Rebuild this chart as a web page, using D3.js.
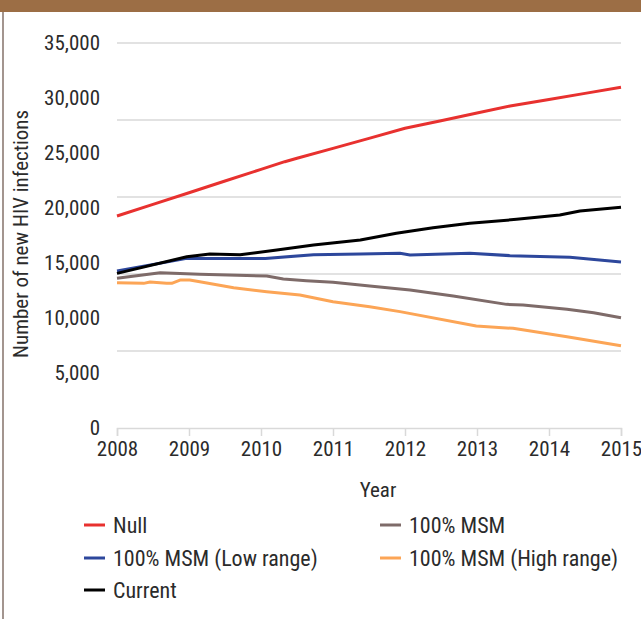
<!DOCTYPE html>
<html>
<head>
<meta charset="utf-8">
<script src="https://cdn.jsdelivr.net/npm/d3@7"></script>
<style>
  body { margin: 0; background: #fff; }
  svg text { font-family: "Liberation Sans Narrow", "Roboto Condensed", "Liberation Sans", sans-serif; fill: #2b2b2b; }
</style>
</head>
<body>
<svg id="chart-svg" width="641" height="619"></svg>
<script>
// years (fractional) and values for each series
var nullYears    = [2008, 2008.5, 2009, 2009.5, 2010, 2010.33, 2010.5, 2011, 2011.5, 2012, 2012.5, 2013, 2013.46, 2014, 2014.5, 2015];
var nullValues   = [19270, 20330, 21390, 22450, 23510, 24210, 24520, 25420, 26330, 27250, 27940, 28630, 29270, 29870, 30420, 30970];

var currentYears  = [2008, 2008.97, 2009.29, 2009.71, 2010.22, 2010.73, 2011.38, 2011.88, 2012.39, 2012.9, 2013.55, 2014.15, 2014.43, 2015];
var currentValues = [14060, 15570, 15820, 15760, 16180, 16640, 17090, 17700, 18210, 18610, 18970, 19360, 19730, 20060];

var lowYears  = [2008, 2008.97, 2009.71, 2010.06, 2010.73, 2011.38, 2011.93, 2012.07, 2012.9, 2013.46, 2014.29, 2015];
var lowValues = [14270, 15420, 15420, 15420, 15760, 15820, 15880, 15730, 15880, 15670, 15520, 15090];

var msmYears  = [2008, 2008.6, 2009.15, 2010.08, 2010.31, 2010.63, 2011, 2011.51, 2012.07, 2012.67, 2013.41, 2013.64, 2014.25, 2014.62, 2015];
var msmValues = [13610, 14120, 13970, 13820, 13550, 13390, 13240, 12910, 12550, 12000, 11240, 11180, 10790, 10480, 10030];

var highYears  = [2008, 2008.37, 2008.46, 2008.69, 2008.76, 2008.875, 2009.01, 2009.15, 2009.62, 2010.08, 2010.54, 2011, 2011.51, 2011.93, 2012.99, 2013.5, 2014.25, 2015];
var highValues = [13210, 13150, 13270, 13150, 13150, 13450, 13450, 13300, 12750, 12390, 12090, 11480, 11030, 10580, 9270, 9060, 8300, 7480];

var yearTicks = [2008, 2009, 2010, 2011, 2012, 2013, 2014, 2015];
var yLabelTicks = [0, 5000, 10000, 15000, 20000, 25000, 30000, 35000];
var gridTicks = [7000, 14000, 21000, 28000, 35000];

var series = [
  { name: "Null", years: nullYears, values: nullValues, color: "#e8312f" },
  { name: "100% MSM", years: msmYears, values: msmValues, color: "#7e6b69" },
  { name: "100% MSM (Low range)", years: lowYears, values: lowValues, color: "#2d479c" },
  { name: "100% MSM (High range)", years: highYears, values: highValues, color: "#fca556" },
  { name: "Current", years: currentYears, values: currentValues, color: "#000000" }
];
var drawOrder = ["100% MSM (High range)", "100% MSM", "Null", "100% MSM (Low range)", "Current"];

var svg = d3.select("#chart-svg");

// frame
svg.append("rect").attr("x", 0).attr("y", 0).attr("width", 641).attr("height", 12).attr("fill", "#9c6e45");
svg.append("line").attr("x1", 3).attr("x2", 3).attr("y1", 12).attr("y2", 619)
    .attr("stroke", "#a3958f").attr("stroke-width", 2);

var x = d3.scaleLinear().domain([2008, 2015]).range([117, 621]);
var y = d3.scaleLinear().domain([0, 35000]).range([428, 43]);

// gridlines
svg.selectAll(".grid")
    .data(gridTicks)
    .enter().append("line")
    .attr("class", "grid")
    .attr("x1", x(2008)).attr("x2", x(2015))
    .attr("y1", d => y(d)).attr("y2", d => y(d))
    .attr("stroke", "#d9d9d9").attr("stroke-width", 1.5);

var fontStack = "'Liberation Sans Narrow', 'Roboto Condensed', sans-serif";

// x axis
var xAxis = svg.append("g")
    .attr("transform", "translate(0," + y(0) + ")")
    .call(d3.axisBottom(x).tickValues(yearTicks).tickFormat(d3.format("d")).tickSize(8).tickPadding(5));
xAxis.select(".domain").attr("stroke", "#d9d9d9").attr("stroke-width", 1.5);
xAxis.selectAll(".tick line").attr("stroke", "#d9d9d9").attr("stroke-width", 1.5);
xAxis.selectAll("text").attr("font-size", 21).attr("fill", "#2b2b2b").style("font-family", fontStack);

// y axis labels
var yAxis = svg.append("g")
    .attr("transform", "translate(" + x(2008) + ",0)")
    .call(d3.axisLeft(y).tickValues(yLabelTicks).tickFormat(d3.format(",")).tickSize(0).tickPadding(17));
yAxis.select(".domain").remove();
yAxis.selectAll("text").attr("font-size", 21).attr("fill", "#2b2b2b").style("font-family", fontStack);

// axis titles
svg.append("text")
    .attr("x", 378).attr("y", 497)
    .attr("text-anchor", "middle")
    .attr("font-size", 21)
    .text("Year");

svg.append("text")
    .attr("transform", "translate(28,234) rotate(-90)")
    .attr("text-anchor", "middle")
    .attr("font-size", 21)
    .text("Number of new HIV infections");

// lines
var line = d3.line()
    .x(d => x(d[0]))
    .y(d => y(d[1]));

drawOrder.forEach(function (name) {
  var s = series.find(d => d.name === name);
  svg.append("path")
      .datum(d3.zip(s.years, s.values))
      .attr("fill", "none")
      .attr("stroke", s.color)
      .attr("stroke-width", 3)
      .attr("stroke-linejoin", "round")
      .attr("d", line);
});

// legend
var legendPos = [[84, 525], [380, 525], [84, 558], [380, 558], [84, 590]];
var legend = svg.selectAll(".legend")
    .data(series)
    .enter().append("g")
    .attr("class", "legend")
    .attr("transform", (d, i) => "translate(" + legendPos[i][0] + "," + legendPos[i][1] + ")");

legend.append("line")
    .attr("x1", 0).attr("x2", 21)
    .attr("stroke", d => d.color)
    .attr("stroke-width", 3);

legend.append("text")
    .attr("x", 29).attr("dy", "0.35em")
    .attr("font-size", 22)
    .text(d => d.name);
</script>
</body>
</html>
